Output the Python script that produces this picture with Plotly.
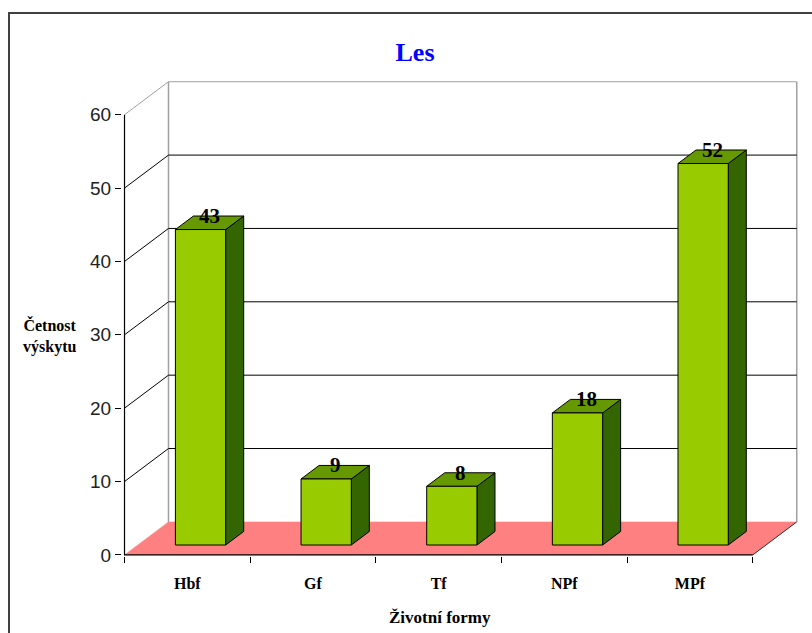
import plotly.graph_objects as go

# ---- data ----
categories = ["Hbf", "Gf", "Tf", "NPf", "MPf"]
counts = [43, 9, 8, 18, 52]
y_ticks = [0, 10, 20, 30, 40, 50, 60]
chart_title = "Les"
x_title = "Životní formy"
y_title = "Četnost<br>výskytu"

# ---- pseudo-3D geometry (oblique projection) ----
DX = 0.35        # horizontal shift of full depth, in category units
DY = 4.5         # vertical shift of full depth, in value units
HALF_W = 0.2     # half width of a bar, in category units
Z_FRONT, Z_BACK = 0.30, 0.71   # bar depth span (0 = front plane, 1 = back wall)
Y_MAX = y_ticks[-1]
N = len(categories)
X_LO, X_HI = -0.5, N - 0.5

FRONT = "#99CC00"
TOP = "#669900"
SIDE = "#336600"
FLOOR = "#FF8080"
GRID = "#000000"
FRAME = "#A0A0A0"


def proj(x, y, z):
    return x + z * DX, y + z * DY


def poly(points, fill, line_color="black", width=1):
    xs = [p[0] for p in points] + [points[0][0]]
    ys = [p[1] for p in points] + [points[0][1]]
    return go.Scatter(x=xs, y=ys, mode="lines", fill="toself", fillcolor=fill,
                      line=dict(color=line_color, width=width),
                      hoverinfo="skip", showlegend=False)


def seg(points, color, width=1):
    return go.Scatter(x=[p[0] for p in points], y=[p[1] for p in points],
                      mode="lines", line=dict(color=color, width=width),
                      hoverinfo="skip", showlegend=False)


fig = go.Figure()

# floor
floor_pts = [proj(X_LO, 0, 0), proj(X_HI, 0, 0), proj(X_HI, 0, 1), proj(X_LO, 0, 1)]
fig.add_trace(poly(floor_pts, FLOOR, line_color=FLOOR, width=0.5))
fig.add_trace(seg([proj(X_HI, 0, 0), proj(X_HI, 0, 1)], "#333333", 1))

# back wall frame and side-wall / back-wall grid
fig.add_trace(seg([proj(X_LO, 0, 1), proj(X_LO, Y_MAX, 1)], FRAME, 1.5))
fig.add_trace(seg([proj(X_HI, 0, 1), proj(X_HI, Y_MAX, 1)], FRAME, 1.5))
for v in y_ticks[1:]:
    col = FRAME if v == Y_MAX else GRID
    fig.add_trace(seg([proj(X_LO, v, 0), proj(X_LO, v, 1), proj(X_HI, v, 1)], col, 1))

# bars
for i, v in enumerate(counts):
    x0, x1 = i - HALF_W, i + HALF_W
    side = [proj(x1, 0, Z_FRONT), proj(x1, 0, Z_BACK), proj(x1, v, Z_BACK), proj(x1, v, Z_FRONT)]
    top = [proj(x0, v, Z_FRONT), proj(x1, v, Z_FRONT), proj(x1, v, Z_BACK), proj(x0, v, Z_BACK)]
    front = [proj(x0, 0, Z_FRONT), proj(x1, 0, Z_FRONT), proj(x1, v, Z_FRONT), proj(x0, v, Z_FRONT)]
    fig.add_trace(poly(side, SIDE))
    fig.add_trace(poly(top, TOP))
    fig.add_trace(poly(front, FRONT))

# front axes lines
fig.add_trace(seg([(X_LO, Y_MAX), (X_LO, 0), (X_HI, 0)], "black", 1.2))

# helper trace so the overlaid label axis is drawn
fig.add_trace(go.Scatter(x=[0], y=[0], mode="lines", xaxis="x2",
                         hoverinfo="skip", showlegend=False))

# value labels above each bar
z_mid = (Z_FRONT + Z_BACK) / 2
for i, v in enumerate(counts):
    lx, ly = proj(i, v, z_mid)
    fig.add_annotation(x=lx, y=ly, text=str(v), showarrow=False, yshift=7,
                       font=dict(family="Liberation Serif", size=21, color="black",
                                 weight="bold"))

# ---- layout ----
W, H = 812, 633
L, R, T, B = 122, 14, 81, 77
x_range = [X_LO - 0.02, X_HI + DX + 0.01]
y_range = [-0.15, Y_MAX + DY + 0.1]
pw, ph = W - L - R, H - T - B


def paper_x(px):
    return (px - L) / pw


def paper_y(py):
    return (H - B - py) / ph


fig.update_layout(
    width=W, height=H, autosize=False,
    margin=dict(l=L, r=R, t=T, b=B, pad=0),
    paper_bgcolor="white", plot_bgcolor="white",
    title=dict(text=chart_title, x=415 / W, xanchor="center",
               y=1 - 52 / H, yanchor="middle",
               font=dict(family="Liberation Serif", size=26, color="#0000FF",
                         weight="bold")),
    xaxis=dict(range=x_range, showgrid=False, zeroline=False, showline=False,
               tickmode="array", tickvals=[X_LO + k for k in range(N + 1)],
               ticktext=[""] * (N + 1), ticks="outside", ticklen=6,
               tickwidth=1, tickcolor="black"),
    xaxis2=dict(range=x_range, overlaying="x", anchor="y", side="bottom",
                showgrid=False, zeroline=False, showline=False,
                tickmode="array", tickvals=list(range(N)), ticktext=categories,
                ticks="outside", ticklen=13, tickcolor="rgba(0,0,0,0)",
                tickfont=dict(family="Liberation Serif", size=16, color="black",
                              weight="bold")),
    yaxis=dict(range=y_range, showgrid=False, zeroline=False, showline=False,
               tickmode="array", tickvals=y_ticks, ticks="outside", ticklen=6,
               tickwidth=1, tickcolor="black",
               tickfont=dict(family="Liberation Sans", size=19, color="#222222")),
    showlegend=False,
)

# axis titles
fig.add_annotation(xref="paper", yref="paper", x=paper_x(50), y=paper_y(336),
                   text=y_title, showarrow=False, xanchor="center", yanchor="middle",
                   align="center",
                   font=dict(family="Liberation Serif", size=16, color="black",
                             weight="bold"))
fig.add_annotation(xref="paper", yref="paper", x=paper_x(440), y=paper_y(617),
                   text=x_title, showarrow=False, xanchor="center", yanchor="middle",
                   font=dict(family="Liberation Serif", size=17, color="black",
                             weight="bold"))

# chart frame
fig.add_shape(type="rect", xref="paper", yref="paper",
              x0=paper_x(9), y0=paper_y(13), x1=paper_x(W + 10), y1=paper_y(H + 10),
              line=dict(color="#404040", width=2), fillcolor="rgba(0,0,0,0)",
              layer="above")

fig.write_html("out.html")
